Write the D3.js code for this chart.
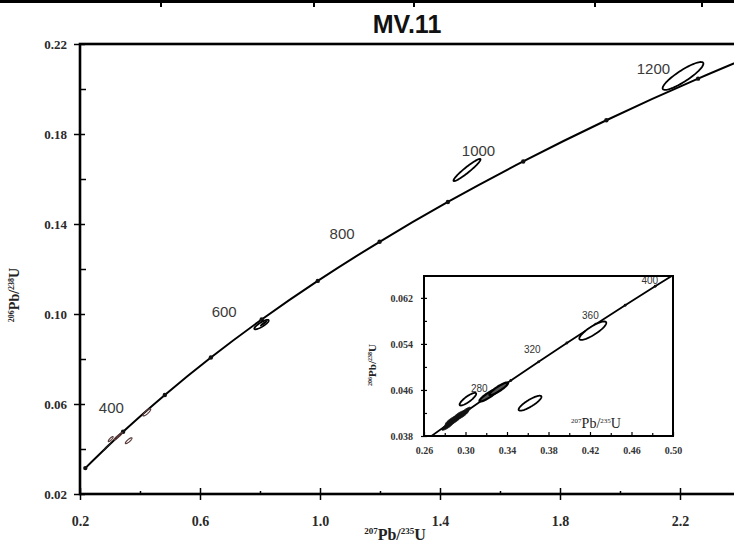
<!DOCTYPE html>
<html><head><meta charset="utf-8">
<script src="https://cdn.jsdelivr.net/npm/d3@7"></script>
<style>body{margin:0;background:#fff}svg{display:block}</style>
</head><body>
<svg id="c" width="734" height="548"></svg>
<script>
// ---------------- data ----------------
const chartTitle = "MV.11";
// concordia nodes on main plot (age in Ma, 207Pb/235U, 206Pb/238U)
const mainAges = [200,300,400,500,600,700,800,900,1000,1100,1200,1300];
const mainX = [0.2177,0.3437,0.4828,0.6363,0.8056,0.9925,1.1987,1.4263,1.6774,1.9545,2.2603,2.5978];
const mainY = [0.03151,0.04764,0.06402,0.08065,0.09754,0.1147,0.1321,0.1498,0.1678,0.1861,0.2046,0.2234];
const mainLabelAges = [400,600,800,1000,1200];
// concordia nodes on inset
const insetAges = [240,260,280,300,320,340,360,380,400,420];
const insetX = [0.2666,0.2918,0.3175,0.3437,0.3705,0.3977,0.4255,0.4539,0.4828,0.5123];
const insetY = [0.03793,0.04116,0.04439,0.04764,0.05089,0.05416,0.05743,0.06072,0.06402,0.06732];
const insetLabelAges = [280,320,360,400];
// axis ticks
const xTicksMain = [0.2,0.6,1.0,1.4,1.8,2.2];
const xMinorMain = [0.4,0.8,1.2,1.6,2.0,2.4];
const yTicksMain = [0.02,0.06,0.10,0.14,0.18,0.22];
const yMinorMain = [0.04,0.08,0.12,0.16,0.20];
const xTicksInset = [0.26,0.30,0.34,0.38,0.42,0.46,0.50];
const xMinorInset = [0.28,0.32,0.36,0.40,0.44,0.48];
const yTicksInset = [0.038,0.046,0.054,0.062];
const yMinorInset = [0.042,0.050,0.058];
// error ellipses: [207/235, 206/238, half-extent x, half-extent y, rho]
const bigEllipses = [
  [0.805,0.0953,0.024,0.0021,0.85],
  [1.490,0.1640,0.045,0.0049,0.95],
  [2.210,0.2058,0.068,0.0062,0.88]
];
const bigFilled = [
  [0.812,0.0958,0.012,0.0012,0.85]
];
const clusterFilled = [
  [0.2830,0.0398,0.006,0.0008,0.85],
  [0.2865,0.0407,0.006,0.0008,0.85],
  [0.2900,0.0408,0.006,0.0008,0.85],
  [0.2935,0.0416,0.006,0.0008,0.85],
  [0.2970,0.0417,0.006,0.0008,0.85],
  [0.3000,0.0423,0.005,0.0007,0.85]
];
const thickEllipses = [
  [0.3225,0.0451,0.009,0.0011,0.9],
  [0.3320,0.0462,0.009,0.0011,0.9]
];
const openEllipses = [
  [0.3023,0.0444,0.008,0.0011,0.85],
  [0.3622,0.0437,0.011,0.0013,0.85],
  [0.4227,0.0563,0.013,0.0016,0.85]
];

// ---------------- drawing ----------------
const svg = d3.select("#c");
const serif = "'Liberation Serif','Times New Roman',serif";
const sans = "'Liberation Sans',Arial,sans-serif";

// fragment of table border at top
svg.append("line").attr("x1",0).attr("x2",734).attr("y1",1.5).attr("y2",1.5)
  .attr("stroke","#000").attr("stroke-width",3);
[161,314,414,595,702].forEach(px=>svg.append("line").attr("x1",px).attr("x2",px)
  .attr("y1",0).attr("y2",7).attr("stroke","#000").attr("stroke-width",2));

svg.append("text").attr("x",407).attr("y",33).attr("text-anchor","middle")
  .attr("font-family",sans).attr("font-weight","bold").attr("font-size",25)
  .attr("fill","#111").text(chartTitle);

// main scales
const x = d3.scaleLinear().domain([0.2,2.4]).range([80,740]);
const y = d3.scaleLinear().domain([0.02,0.22]).range([494,44]);

svg.append("defs").append("clipPath").attr("id","mclip").append("rect")
  .attr("x",80).attr("y",44).attr("width",660).attr("height",450);

function ellPts(e){
  const [cx,cy,sx,sy,r]=e, q=Math.sqrt(1-r*r);
  return d3.range(72).map(i=>{const t=i/72*2*Math.PI;
    return [cx+sx*Math.cos(t), cy+sy*(r*Math.cos(t)+q*Math.sin(t))];});
}
function ellLine(xs,ys){return d3.line().x(d=>xs(d[0])).y(d=>ys(d[1])).curve(d3.curveLinearClosed);}

const mg = svg.append("g").attr("clip-path","url(#mclip)");
const mainPts = mainAges.map((a,i)=>({a,x:mainX[i],y:mainY[i]}));
mg.append("path").datum(mainPts)
  .attr("d",d3.line().x(d=>x(d.x)).y(d=>y(d.y)).curve(d3.curveNatural))
  .attr("fill","none").attr("stroke","#000").attr("stroke-width",2);
mg.selectAll("circle.n").data(mainPts.filter(d=>d.a<=1200)).join("circle")
  .attr("cx",d=>x(d.x)).attr("cy",d=>y(d.y)).attr("r",2.2).attr("fill","#111");

const eM = ellLine(x,y);
mg.selectAll("path.be").data(bigEllipses).join("path").attr("d",d=>eM(ellPts(d)))
  .attr("fill","none").attr("stroke","#000").attr("stroke-width",1.8);
mg.selectAll("path.bf").data(bigFilled).join("path").attr("d",d=>eM(ellPts(d)))
  .attr("fill","#000");
mg.selectAll("path.cf").data(clusterFilled).join("path").attr("d",d=>eM(ellPts(d)))
  .attr("fill","#222");
mg.selectAll("path.te").data(thickEllipses.concat(openEllipses)).join("path").attr("d",d=>eM(ellPts(d)))
  .attr("fill","none").attr("stroke","#5a3a3a").attr("stroke-width",1.2);

// main age labels
const mOff = {400:[-41,18],600:[-25,-3],800:[-25,-3],1000:[-28,-5],1200:[-28,-5]};
mainLabelAges.forEach(a=>{
  const p = mainPts.find(d=>d.a===a);
  svg.append("text").attr("x",x(p.x)+mOff[a][0]).attr("y",y(p.y)+mOff[a][1])
    .attr("text-anchor","end").attr("font-family",sans).attr("font-size",15)
    .attr("fill","#3a3a3a").text(a);
});

// main axes
const xa = svg.append("g").attr("transform","translate(0,494)")
  .call(d3.axisBottom(x).tickValues(xTicksMain).tickFormat(d3.format(".1f")).tickSize(6));
xa.select(".domain").remove();
xa.selectAll("line").attr("y1",-6).attr("y2",6).attr("stroke-width",1.5);
xa.selectAll("text").attr("y",32).attr("dy",null).attr("font-family",serif)
  .attr("font-weight","bold").attr("font-size",14).attr("fill","#2a2a2a");
const xm = svg.append("g").attr("transform","translate(0,494)")
  .call(d3.axisBottom(x).tickValues(xMinorMain).tickFormat("").tickSize(2));
xm.select(".domain").remove();
xm.selectAll("line").attr("y1",-3).attr("y2",1).attr("stroke-width",1.5);

const ya = svg.append("g").attr("transform","translate(80,0)")
  .call(d3.axisLeft(y).tickValues(yTicksMain).tickFormat(d3.format(".2f")).tickSize(6));
ya.select(".domain").remove();
ya.selectAll("line").attr("x1",-6).attr("x2",5).attr("stroke-width",1.5);
ya.selectAll("text").attr("x",-13).attr("font-family",serif)
  .attr("font-weight","bold").attr("font-size",13).attr("fill","#2a2a2a");
const ym = svg.append("g").attr("transform","translate(80,0)")
  .call(d3.axisLeft(y).tickValues(yMinorMain).tickFormat("").tickSize(2));
ym.select(".domain").remove();
ym.selectAll("line").attr("x1",0).attr("x2",6).attr("stroke-width",1.5);

// main frame
svg.append("rect").attr("x",80).attr("y",44).attr("width",660).attr("height",450)
  .attr("fill","none").attr("stroke","#000").attr("stroke-width",2.6);

function isoLabel(g, pre, sup1, el, sup2, el2, size, supSize, bold){
  const t = g.append("text").attr("font-family",serif).attr("fill","#222")
    .attr("font-weight",bold?"bold":"normal");
  const up = -size*0.38;
  t.append("tspan").attr("font-size",supSize).attr("dy",up).text(sup1);
  t.append("tspan").attr("font-size",size).attr("dy",-up).text(el+"/");
  t.append("tspan").attr("font-size",supSize).attr("dy",up).text(sup2);
  t.append("tspan").attr("font-size",size).attr("dy",-up).text(el2);
  return t;
}
isoLabel(svg,"","207","Pb","235","U",16,9,true)
  .attr("x",395).attr("y",540).attr("text-anchor","middle");
isoLabel(svg.append("g").attr("transform","translate(19,295) rotate(-90)"),"","206","Pb","238","U",14,8,true)
  .attr("x",0).attr("y",0).attr("text-anchor","middle");

// ---------------- inset ----------------
const ix = d3.scaleLinear().domain([0.26,0.50]).range([424,673]);
const iy = d3.scaleLinear().domain([0.038,0.0658]).range([436,276]);
svg.append("rect").attr("x",424).attr("y",276).attr("width",249).attr("height",160).attr("fill","#fff");
svg.select("defs").append("clipPath").attr("id","iclip").append("rect")
  .attr("x",424).attr("y",276).attr("width",249).attr("height",160);
const ig = svg.append("g").attr("clip-path","url(#iclip)");
const insetPts = insetAges.map((a,i)=>({a,x:insetX[i],y:insetY[i]}));
ig.append("path").datum(insetPts)
  .attr("d",d3.line().x(d=>ix(d.x)).y(d=>iy(d.y)).curve(d3.curveNatural))
  .attr("fill","none").attr("stroke","#000").attr("stroke-width",1.8);
ig.selectAll("circle").data(insetPts).join("circle")
  .attr("cx",d=>ix(d.x)).attr("cy",d=>iy(d.y)).attr("r",1.4).attr("fill","#111");
const eI = ellLine(ix,iy);
ig.selectAll("path.cf").data(clusterFilled).join("path").attr("d",d=>eI(ellPts(d)))
  .attr("fill","#111").attr("stroke","#111").attr("stroke-width",1);
ig.selectAll("path.te").data(thickEllipses).join("path").attr("d",d=>eI(ellPts(d)))
  .attr("fill","#555").attr("stroke","#000").attr("stroke-width",2.2);
ig.selectAll("path.oe").data(openEllipses).join("path").attr("d",d=>eI(ellPts(d)))
  .attr("fill","#fff").attr("stroke","#000").attr("stroke-width",1.8);

const iOff = {280:[4,-7],320:[2,-9],360:[3,-5],400:[3,-2]};
insetLabelAges.forEach(a=>{
  const p = insetPts.find(d=>d.a===a);
  svg.append("text").attr("x",ix(p.x)+iOff[a][0]).attr("y",iy(p.y)+iOff[a][1])
    .attr("text-anchor","end").attr("font-family",sans).attr("font-size",10)
    .attr("fill","#333").text(a);
});

const ixa = svg.append("g").attr("transform","translate(0,436)")
  .call(d3.axisBottom(ix).tickValues(xTicksInset).tickFormat(d3.format(".2f")).tickSize(4));
ixa.select(".domain").remove();
ixa.selectAll("line").attr("y1",0).attr("y2",-4).attr("stroke-width",1.2);
ixa.selectAll("text").attr("y",18).attr("dy",null).attr("font-family",serif)
  .attr("font-weight","bold").attr("font-size",10).attr("fill","#333");
const ixm = svg.append("g").attr("transform","translate(0,436)")
  .call(d3.axisBottom(ix).tickValues(xMinorInset).tickFormat("").tickSize(3));
ixm.select(".domain").remove();
ixm.selectAll("line").attr("y1",0).attr("y2",-3).attr("stroke-width",1.2);

const iya = svg.append("g").attr("transform","translate(424,0)")
  .call(d3.axisLeft(iy).tickValues(yTicksInset).tickFormat(d3.format(".3f")).tickSize(3));
iya.select(".domain").remove();
iya.selectAll("line").attr("x1",-3).attr("x2",3).attr("stroke-width",1.2);
iya.selectAll("text").attr("x",-11).attr("font-family",serif)
  .attr("font-weight","bold").attr("font-size",10).attr("fill","#333");
const iym = svg.append("g").attr("transform","translate(424,0)")
  .call(d3.axisLeft(iy).tickValues(yMinorInset).tickFormat("").tickSize(3));
iym.select(".domain").remove();
iym.selectAll("line").attr("x1",0).attr("x2",3).attr("stroke-width",1.2);

svg.append("rect").attr("x",424).attr("y",276).attr("width",249).attr("height",160)
  .attr("fill","none").attr("stroke","#000").attr("stroke-width",2);

isoLabel(svg,"","207","Pb","235","U",14,7,false)
  .attr("x",596).attr("y",428).attr("text-anchor","middle");
isoLabel(svg.append("g").attr("transform","translate(376,365) rotate(-90)"),"","206","Pb","238","U",11,6,true)
  .attr("x",0).attr("y",0).attr("text-anchor","middle");
</script>
</body></html>
